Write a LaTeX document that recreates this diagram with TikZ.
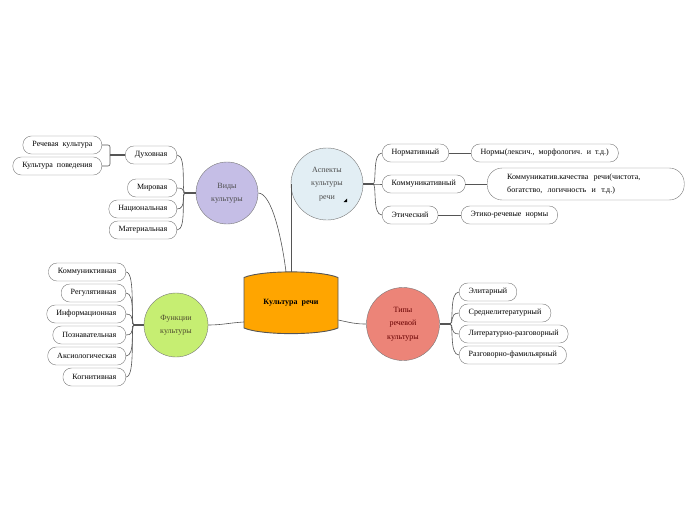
\documentclass[tikz,border=0pt]{standalone}
\usepackage{fontspec}
\setmainfont{Liberation Serif}
\usepackage{xcolor}
\definecolor{coreorange}{RGB}{255,165,0}
\definecolor{lilac}{RGB}{197,190,230}
\definecolor{paleblue}{RGB}{226,238,244}
\definecolor{limegreen}{RGB}{198,238,114}
\definecolor{salmonred}{RGB}{236,132,120}
\definecolor{wire}{RGB}{85,85,85}
\definecolor{rim}{RGB}{120,120,120}
\usepackage{tikz}

\tikzset{
  leaf/.style={draw=rim, fill=white, rounded corners=8.5pt, minimum height=18pt,
    inner xsep=9.5pt, inner ysep=0pt, font=\fontsize{8}{9}\selectfont},
  hub/.style={circle, draw=rim, inner sep=0pt, align=center,
    font=\fontsize{8}{13.5}\selectfont},
  link/.style={draw=wire, line width=0.6pt},
  stub/.style={draw=wire, line width=1.2pt},
}

\begin{document}
\begin{tikzpicture}[x=1pt, y=-1pt]
  \useasboundingbox (0,0) rectangle (696,520);

  % centre
  \draw[wire, fill=coreorange, line width=0.9pt]
    (244,277.5) .. controls (262,270) and (320,270) .. (338,277.5) -- (338,328)
    .. controls (320,335.5) and (262,335.5) .. (244,328) -- cycle;
  \node[minimum width=94pt, minimum height=62pt, font=\fontsize{8}{9}\selectfont\bfseries]
    (core) at (291,303) {Культура \ речи};

  % main topics
  \node[hub, fill=lilac, minimum size=62pt, text=black!70] (vidy) at (227,193) {Виды\\культуры};
  \node[hub, fill=paleblue, minimum size=72pt, text=black!70] (aspekty) at (327,184) {Аспекты\\культуры\\речи};
  \fill (343.5,202) -- (347,202) -- (347,198.5) -- cycle;
  \node[hub, fill=limegreen, minimum size=64pt, text=black!60!olive] (funk) at (176,325) {Функции\\культуры};
  \node[hub, fill=salmonred, minimum size=73pt, text=black!60!red] (tipy) at (403,324) {Типы\\речевой\\культуры};

  \draw[link] (vidy.east) .. controls (272,193) and (282,240) .. ([xshift=-5pt]core.north);
  \draw[link] (aspekty.west) -- (aspekty.west |- core.north);
  \draw[link] ([yshift=-19pt]core.west) .. controls (228,323) and (222,325) .. (funk.east);
  \draw[link] ([yshift=-17pt]core.east) .. controls (352,323) and (356,324) .. (tipy.west);

  % Виды культуры
  \foreach \name/\txt/\y in {dux/Духовная/155, mir/Мировая/188, nac/Национальная/209, mat/Материальная/230}
    \node[leaf, anchor=east] (\name) at (177,\y) {\txt};
  \coordinate (vidyknot) at (185,193);
  \draw[stub] (vidy.west) -- (vidyknot);
  \foreach \name in {dux,mir,nac,mat}
    \draw[link] (vidyknot) .. controls +(-4,0) and +(10,0) .. (\name.east);

  \node[leaf, anchor=east] (rech) at (102,145) {Речевая \ культура};
  \node[leaf, anchor=east] (povd) at (102,166) {Культура \ поведения};
  \coordinate (duxknot) at (110,155);
  \draw[stub] (dux.west) -- (duxknot);
  \draw[link, rounded corners=2pt] (duxknot) |- (rech.east);
  \draw[link, rounded corners=2pt] (duxknot) |- (povd.east);

  % Аспекты культуры речи
  \foreach \name/\txt/\y in {norm/Нормативный/153, komm/Коммуникативный/184, etic/Этический/215}
    \node[leaf, anchor=west] (\name) at (382,\y) {\txt};
  \coordinate (aspknot) at (373,184);
  \draw[stub] (aspekty.east) -- (aspknot);
  \foreach \name in {norm,komm,etic}
    \draw[link] (aspknot) .. controls +(4,0) and +(-10,0) .. (\name.west);

  \node[leaf, anchor=west] (normy) at (471,153) {Нормы(лексич., \ морфологич. \ и \ т.д.)};
  \node[leaf, anchor=west, rounded corners=15pt, minimum height=32pt, inner xsep=20pt,
    text width=157pt, align=left, font=\fontsize{8}{13}\selectfont]
    (kachestva) at (487,184) {Коммуникатив.качества \ речи(чистота,\\богатство, \ логичность \ и \ т.д.)};
  \node[leaf, anchor=west] (etiko) at (461,215) {Этико-речевые \ нормы};
  \draw[link] (norm) -- (normy);
  \draw[link] (komm) -- (kachestva);
  \draw[link] (etic) -- (etiko);

  % Функции культуры
  \foreach \name/\txt/\y in {kmn/Коммуниктивная/272, reg/Регулятивная/293, inf/Информационная/314,
      pzn/Познавательная/335, aks/Аксиологическая/356, kog/Когнитивная/377}
    \node[leaf, anchor=east] (\name) at (126,\y) {\txt};
  \coordinate (funkknot) at (134,325);
  \draw[stub] (funk.west) -- (funkknot);
  \foreach \name in {kmn,reg,inf,pzn,aks,kog}
    \draw[link] (funkknot) .. controls +(-4,0) and +(10,0) .. (\name.east);

  % Типы речевой культуры
  \foreach \name/\txt/\y in {elit/Элитарный/292, sred/Среднелитературный/313,
      litr/Литературно-разговорный/334, razg/Разговорно-фамильярный/355}
    \node[leaf, anchor=west] (\name) at (459,\y) {\txt};
  \coordinate (tipknot) at (450,324);
  \draw[stub] (tipy.east) -- (tipknot);
  \foreach \name in {elit,sred,litr,razg}
    \draw[link] (tipknot) .. controls +(4,0) and +(-10,0) .. (\name.west);
\end{tikzpicture}
\end{document}
